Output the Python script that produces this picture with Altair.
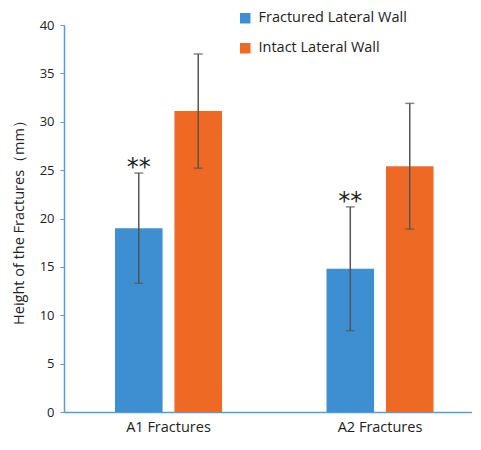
import altair as alt
import pandas as pd

groups = ["A1 Fractures", "A1 Fractures", "A2 Fractures", "A2 Fractures"]
series = ["Fractured Lateral Wall", "Intact Lateral Wall", "Fractured Lateral Wall", "Intact Lateral Wall"]
means = [19.0, 31.1, 14.8, 25.4]
errs = [5.7, 5.9, 6.4, 6.5]
marks = ["**", "", "**", ""]

df = pd.DataFrame({"group": groups, "series": series, "mean": means, "err": errs, "mark": marks})
df["lo"] = df["mean"] - df["err"]
df["hi"] = df["mean"] + df["err"]

FONT = "Open Sans"
AX = "#5b9bd5"
order = ["Fractured Lateral Wall", "Intact Lateral Wall"]

xenc = alt.X("group:N", title=None,
             scale=alt.Scale(paddingInner=0.494, paddingOuter=0.2115, align=0.57),
             axis=alt.Axis(labelAngle=0, labelFontSize=14.5, labelColor="#222", labelFont=FONT,
                           domainColor=AX, ticks=False, labelPadding=8))
xoff = alt.XOffset("series:N", sort=order, scale=alt.Scale(paddingInner=0.2, paddingOuter=0))

base = alt.Chart(df).encode(x=xenc, xOffset=xoff)

bars = base.mark_bar().encode(
    y=alt.Y("mean:Q", title="Height of the Fractures（mm）",
            scale=alt.Scale(domain=[0, 40]),
            axis=alt.Axis(values=list(range(0, 41, 5)), grid=False, domainColor=AX, tickColor=AX,
                          tickSize=4, labelFontSize=13, labelColor="#222", labelFont=FONT,
                          labelPadding=6, titleFontSize=14.5, titleFont=FONT, titleFontWeight="normal",
                          titleColor="#222", titlePadding=13)),
    color=alt.Color("series:N", sort=order,
                    scale=alt.Scale(domain=order, range=["#3d8fd1", "#ee6a24"]),
                    legend=alt.Legend(title=None, orient="none", legendX=174, legendY=-14,
                                      symbolType="square", symbolSize=110, symbolStrokeWidth=0,
                                      labelFontSize=14.5, labelFont=FONT, labelColor="#222",
                                      rowPadding=15, labelOffset=6)),
)

rules = base.mark_rule(color="#555", strokeWidth=1.5).encode(y="lo:Q", y2="hi:Q")
caps_hi = base.mark_tick(color="#555", thickness=1.5, size=9, orient="horizontal").encode(y="hi:Q")
caps_lo = base.mark_tick(color="#555", thickness=1.5, size=9, orient="horizontal").encode(y="lo:Q")
stars = base.mark_text(fontSize=24, dy=-5, color="#222", font="DejaVu Sans", baseline="middle").encode(
    y="hi:Q", text="mark:N")

chart = alt.layer(bars, rules, caps_hi, caps_lo, stars).properties(
    width=408, height=387,
    autosize=alt.AutoSizeParams(type="none"),
    padding={"left": 56, "top": 17, "right": 0, "bottom": 26},
).configure_view(stroke=None).configure_axisX(domainWidth=1.5).configure_axisY(domainWidth=1.5)

chart.save("out.html", embed_options={"renderer": "svg", "actions": False})
